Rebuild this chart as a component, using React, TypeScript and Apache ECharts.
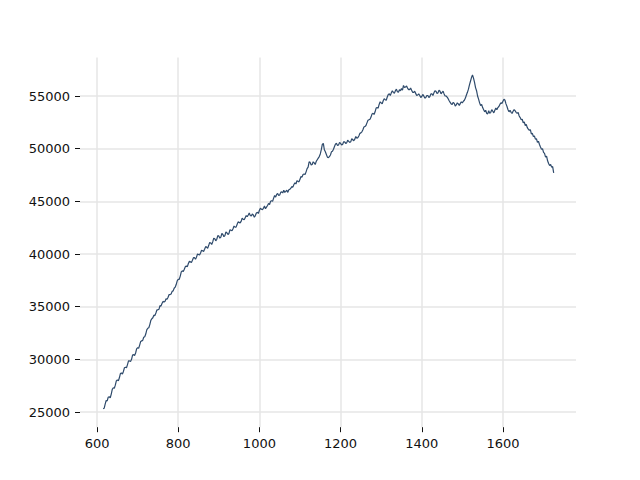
import React, { useEffect, useRef } from "react";
import * as echarts from "echarts";

// Sampling grid of the spectrum (wavenumber axis)
const X_START = 615;
const X_STEP = 2.5;

// Intensity values, one per sample
const intensity: number[] = [
  25300, 25350, 25750, 26100, 26050, 26400, 26450, 26350, 26700, 27150,
  27300, 27250, 27550, 27950, 28050, 27950, 28250, 28650, 28700, 28600,
  28850, 29200, 29250, 29200, 29500, 29850, 29850, 29800, 30000, 30400,
  30450, 30350, 30600, 31000, 31100, 31050, 31350, 31700, 31750, 31800,
  32100, 32150, 32400, 32800, 32950, 33000, 33300, 33700, 33850, 33950,
  34200, 34150, 34400, 34700, 34700, 34750, 35100, 35050, 35300, 35500,
  35450, 35500, 35750, 35700, 35900, 36150, 36150, 36200, 36450, 36500,
  36750, 36850, 37100, 37450, 37600, 37600, 37900, 38300, 38400, 38350,
  38550, 38800, 38850, 38800, 39100, 39300, 39250, 39200, 39400, 39650,
  39650, 39500, 39700, 40000, 39950, 39900, 40100, 40350, 40300, 40250,
  40450, 40700, 40650, 40550, 40800, 41100, 41050, 40900, 41150, 41500,
  41450, 41250, 41400, 41750, 41700, 41500, 41600, 41950, 41850, 41650,
  41750, 42100, 42000, 41850, 41950, 42300, 42250, 42200, 42400, 42650,
  42550, 42550, 42800, 43050, 43000, 42950, 43100, 43400, 43300, 43250,
  43450, 43650, 43550, 43700, 43900, 43650, 43600, 43800, 43700, 43500,
  43650, 43900, 43950, 43850, 44150, 44350, 44250, 44200, 44350, 44550,
  44300, 44450, 44600, 44800, 44700, 45000, 45050, 45000, 45300, 45550,
  45400, 45650, 45750, 45550, 45600, 45850, 45900, 45800, 46050, 45850,
  45950, 46050, 45850, 46100, 46150, 46250, 46400, 46350, 46600, 46750,
  46650, 46950, 46900, 46850, 47100, 47350, 47300, 47550, 47600, 47550,
  47800, 48100, 48250, 48750, 48700, 48450, 48500, 48750, 48650, 48500,
  48800, 48950, 49100, 49250, 49500, 49900, 50400, 50500, 49900, 49700,
  49450, 49200, 49150, 49250, 49400, 49700, 49750, 49950, 50200, 50450,
  50500, 50300, 50350, 50600, 50500, 50350, 50400, 50650, 50650, 50500,
  50550, 50800, 50700, 50600, 50650, 50950, 50850, 50750, 50900, 51150,
  51000, 51050, 51200, 51450, 51500, 51600, 51800, 52050, 52100, 52200,
  52450, 52700, 52750, 52800, 53000, 53300, 53350, 53250, 53500, 53850,
  53900, 53850, 54200, 54450, 54350, 54250, 54550, 54750, 54650, 54600,
  54900, 55150, 55200, 55050, 55300, 55500, 55350, 55250, 55500, 55650,
  55400, 55350, 55600, 55500, 55700, 55550, 56000, 55800, 55850, 55950,
  55750, 55600, 55600, 55750, 55550, 55350, 55350, 55450, 55250, 55050,
  55100, 55200, 55050, 54850, 54950, 55150, 55000, 54800, 54850, 55050,
  55050, 54850, 54950, 55200, 55200, 55050, 55300, 55500, 55450, 55250,
  55300, 55550, 55450, 55200, 55350, 55450, 55200, 55000, 55000, 54900,
  54750, 54550, 54400, 54250, 54200, 54400, 54300, 54050, 54150, 54350,
  54250, 54100, 54300, 54450, 54350, 54500, 54600, 54800, 55100, 55350,
  55650, 56050, 56400, 56750, 57000, 56700, 56300, 55800, 55500, 55000,
  54700, 54350, 54100, 54200, 53900, 53700, 53500, 53650, 53350, 53300,
  53600, 53350, 53450, 53700, 53550, 53400, 53650, 53850, 53700, 53900,
  54000, 54200, 54350, 54300, 54500, 54700, 54600, 54250, 54000, 53700,
  53500, 53650, 53450, 53350, 53550, 53700, 53600, 53450, 53350, 53450,
  53100, 52950, 52750, 52800, 52450, 52550, 52200, 52300, 52000, 51850,
  51750, 51800, 51400, 51450, 51150, 51200, 50900, 50950, 50600, 50700,
  50400, 50150, 49950, 50000, 49650, 49550, 49200, 49300, 48850, 48600,
  48400, 48500, 48250, 48300, 47700,
];

const xTicks = [600, 800, 1000, 1200, 1400, 1600];
const yTicks = [25000, 30000, 35000, 40000, 45000, 50000, 55000];

export default function App() {
  const ref = useRef<HTMLDivElement>(null);
  useEffect(() => {
    if (!ref.current) return;
    const chart = echarts.init(ref.current, null, { renderer: "svg" });
    const data = intensity.map((v, i) => [X_START + i * X_STEP, v]);
    const font = "DejaVu Sans";
    const fmt = (v: number) => String(v);
    chart.setOption({
      animation: false,
      grid: { left: 80, right: 64, top: 57.6, bottom: 52.8, containLabel: false },
      xAxis: {
        type: "value",
        min: 558,
        max: 1780,
        axisLine: { show: false },
        axisTick: { show: true, length: 5, lineStyle: { color: "#111" }, customValues: xTicks },
        axisLabel: { customValues: xTicks, formatter: fmt, color: "#111", fontSize: 13, fontFamily: font, margin: 10 },
        splitLine: { show: true, lineStyle: { color: "#e6e6e6", width: 1.5 } },
      },
      yAxis: {
        type: "value",
        min: 23557,
        max: 58646,
        axisLine: { show: false },
        axisTick: { show: true, length: 5, lineStyle: { color: "#111" }, customValues: yTicks },
        axisLabel: { customValues: yTicks, formatter: fmt, color: "#111", fontSize: 13, fontFamily: font, margin: 10 },
        splitLine: { show: true, lineStyle: { color: "#e6e6e6", width: 1.5 } },
      },
      series: [
        {
          type: "line",
          data,
          showSymbol: false,
          lineStyle: { color: "#2e4a6b", width: 1.2 },
        },
      ],
    });
    return () => chart.dispose();
  }, []);
  return (
    <div
      ref={ref}
      style={{ position: "absolute", left: 0, top: 0, width: 640, height: 480 }}
    />
  );
}
